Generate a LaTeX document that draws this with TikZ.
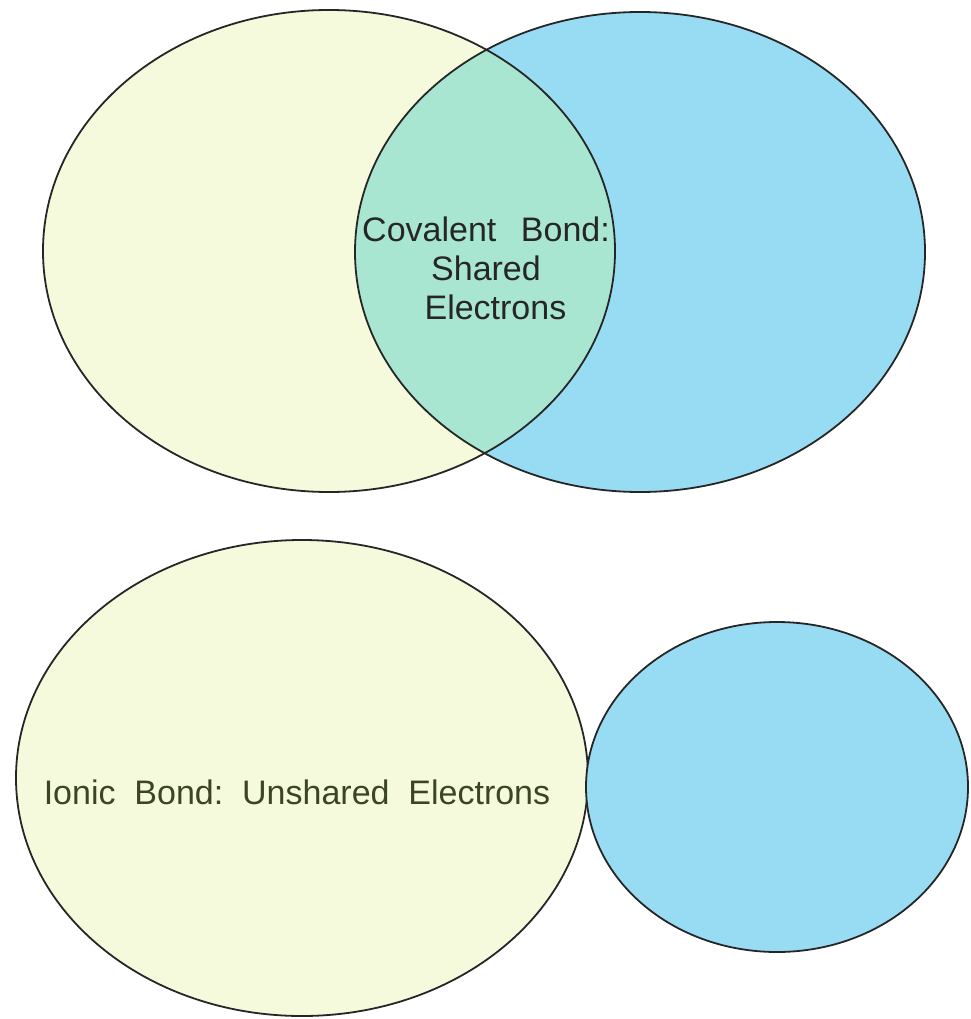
\documentclass[tikz,border=0pt]{standalone}
\usepackage{fontspec}
\setmainfont{Liberation Sans}
\usepackage{xcolor}
\definecolor{paleyellow}{HTML}{F6FADC}
\definecolor{skyblue}{HTML}{98DCF4}
\definecolor{sharedteal}{HTML}{A8E6D2}
\definecolor{olivetext}{HTML}{3C4428}

\tikzset{
	atom/.style={draw=black!85, line width=1.8pt},
	bondlabel/.style={font=\fontsize{34}{39}\selectfont, align=center, inner sep=0pt}
}

\begin{document}
\begin{tikzpicture}[x=1pt, y=-1pt]
			\useasboundingbox (0,0) rectangle (970,1019);
			\fill[paleyellow] (329,251) ellipse [x radius=286, y radius=241];
			\fill[skyblue] (640,252) ellipse [x radius=285, y radius=240];
			\begin{scope}
				\clip (329,251) ellipse [x radius=286, y radius=241];
				\fill[sharedteal] (640,252) ellipse [x radius=285, y radius=240];
			\end{scope}
			\draw[atom] (329,251) ellipse [x radius=286, y radius=241];
			\draw[atom] (640,252) ellipse [x radius=285, y radius=240];
			\node[bondlabel, text=black!85] (covalent) at (486,268){Covalent\ \ \,Bond:\\Shared\\\ \ Electrons};
			\draw[atom, fill=paleyellow] (302,778) ellipse [x radius=286, y radius=238];
			\draw[atom, fill=skyblue] (777,787) ellipse [x radius=191, y radius=165];
			\node[bondlabel, text=olivetext] (ionic) at (297,792){Ionic\ \ Bond:\ \ Unshared\ \ Electrons};
		\end{tikzpicture}
\end{document}
